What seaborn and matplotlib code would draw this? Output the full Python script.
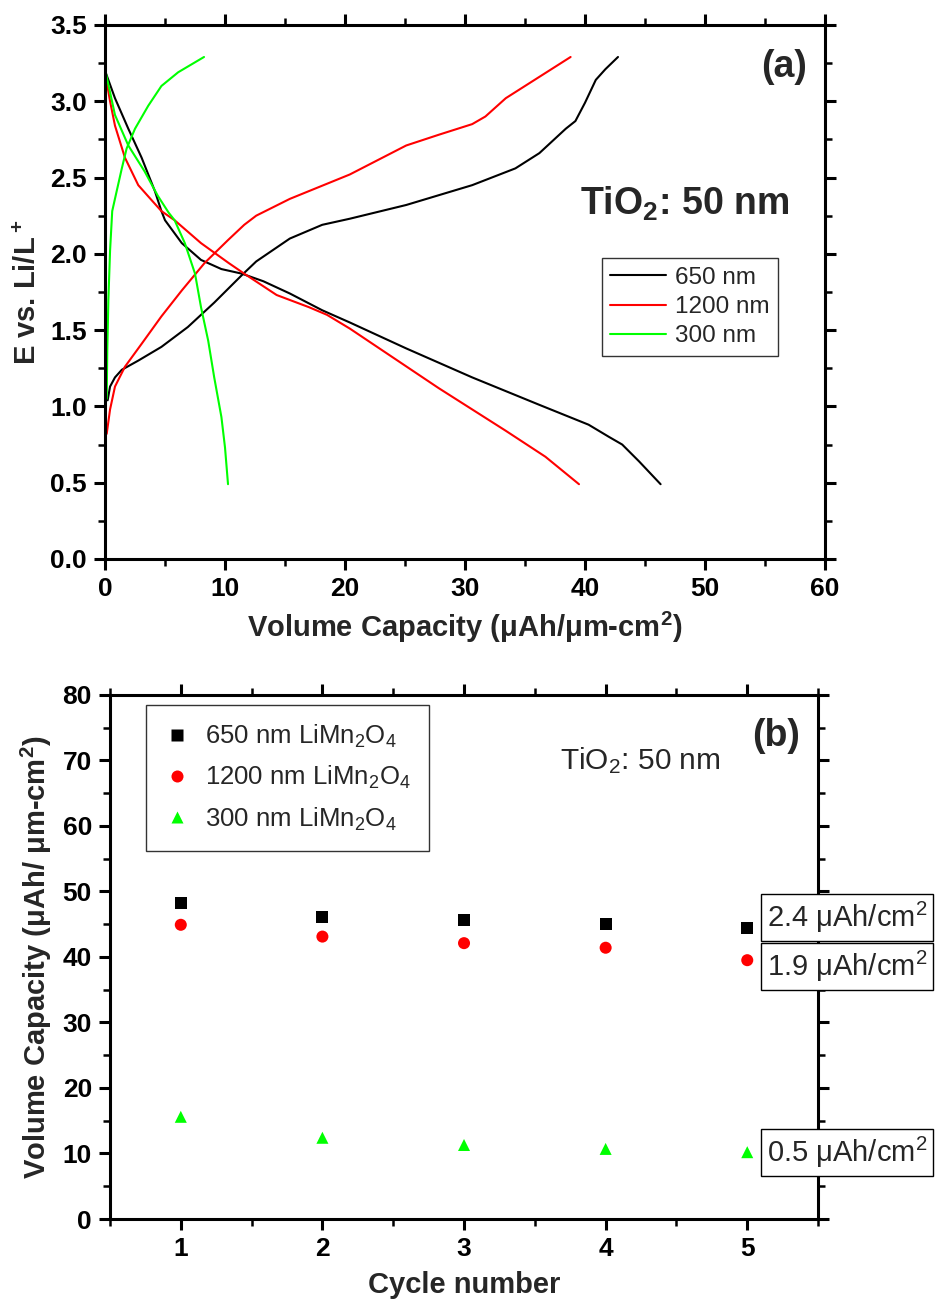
import numpy as np
import pandas as pd
import matplotlib
matplotlib.use("Agg")
import matplotlib.pyplot as plt
import seaborn as sns
from matplotlib.ticker import MultipleLocator, FormatStrFormatter

# ---------------- data: panel (a) ----------------
samples = ["650 nm", "1200 nm", "300 nm"]
colors = ["#000000", "#ff0000", "#00ff00"]

dis_650_x = [0.0, 0.83, 1.94, 3.05, 4.16, 4.7, 5.0, 6.4, 8.0, 9.7, 11.4, 13.2, 15.4, 18.1, 20.4, 25.1, 30.6, 36.2, 40.3, 42.0, 43.1, 44.5, 46.3]
dis_650_y = [3.20, 3.02, 2.82, 2.63, 2.41, 2.28, 2.22, 2.07, 1.96, 1.90, 1.87, 1.82, 1.74, 1.63, 1.55, 1.38, 1.19, 1.01, 0.88, 0.80, 0.75, 0.64, 0.49]
chg_650_x = [0.22, 0.42, 0.83, 1.4, 2.77, 4.7, 6.9, 9.1, 11.4, 12.6, 15.4, 18.1, 20.4, 25.1, 30.6, 34.2, 36.2, 38.4, 39.2, 40.0, 40.9, 41.7, 42.75]
chg_650_y = [1.04, 1.13, 1.19, 1.24, 1.30, 1.39, 1.52, 1.68, 1.86, 1.95, 2.10, 2.19, 2.23, 2.32, 2.45, 2.56, 2.66, 2.82, 2.87, 2.99, 3.14, 3.21, 3.29]

dis_1200_x = [0.0, 0.42, 0.83, 1.66, 2.77, 3.9, 4.7, 5.8, 8.0, 10.3, 11.6, 14.3, 17.0, 18.5, 20.4, 27.8, 33.4, 36.7, 39.5]
dis_1200_y = [3.19, 3.00, 2.84, 2.63, 2.45, 2.35, 2.28, 2.22, 2.07, 1.94, 1.87, 1.73, 1.65, 1.60, 1.51, 1.12, 0.84, 0.67, 0.49]
chg_1200_x = [0.14, 0.42, 0.83, 1.66, 3.05, 4.7, 6.4, 8.3, 10.25, 11.6, 12.6, 15.4, 20.4, 25.1, 27.8, 30.6, 31.7, 33.4, 36.2, 38.8]
chg_1200_y = [0.82, 0.98, 1.13, 1.26, 1.41, 1.59, 1.76, 1.94, 2.09, 2.19, 2.25, 2.36, 2.52, 2.71, 2.78, 2.85, 2.90, 3.02, 3.16, 3.29]

dis_300_x = [0.0, 0.83, 1.94, 3.3, 4.4, 5.3, 5.8, 6.65, 7.5, 8.0, 8.6, 9.1, 9.7, 10.0, 10.25]
dis_300_y = [3.21, 2.91, 2.71, 2.54, 2.38, 2.27, 2.22, 2.07, 1.87, 1.65, 1.43, 1.19, 0.93, 0.73, 0.49]
chg_300_x = [0.14, 0.19, 0.28, 0.42, 0.6, 0.97, 1.4, 1.8, 2.5, 3.6, 4.7, 6.1, 8.25]
chg_300_y = [1.05, 1.37, 1.70, 2.02, 2.28, 2.41, 2.56, 2.69, 2.82, 2.97, 3.10, 3.19, 3.29]

# ---------------- data: panel (b) ----------------
cycles = [1, 2, 3, 4, 5]
cap_650 = [48.2, 46.1, 45.6, 45.0, 44.4]
cap_1200 = [44.9, 43.1, 42.1, 41.4, 39.5]
cap_300 = [15.6, 12.4, 11.3, 10.7, 10.2]
series_b = ["650 nm LiMn$_2$O$_4$", "1200 nm LiMn$_2$O$_4$", "300 nm LiMn$_2$O$_4$"]
areal_labels = ["2.4 μAh/cm$^2$", "1.9 μAh/cm$^2$", "0.5 μAh/cm$^2$"]
areal_y = [46.0, 38.5, 10.2]

# ---------------- style ----------------
sns.set_theme(style="white")
plt.rcParams["font.family"] = ["Liberation Sans", "DejaVu Sans"]
plt.rcParams["mathtext.default"] = "regular"
plt.rcParams["axes.linewidth"] = 2.2

fig = plt.figure(figsize=(9.36, 13.06), dpi=100)
axa = fig.add_axes([0.1122, 0.572, 0.7692, 0.4089])
axb = fig.add_axes([0.1175, 0.0666, 0.7565, 0.4014])

# ---------------- panel (a) ----------------
rows = []
curves = [
    ("650 nm", "d", dis_650_x, dis_650_y), ("650 nm", "c", chg_650_x, chg_650_y),
    ("1200 nm", "d", dis_1200_x, dis_1200_y), ("1200 nm", "c", chg_1200_x, chg_1200_y),
    ("300 nm", "d", dis_300_x, dis_300_y), ("300 nm", "c", chg_300_x, chg_300_y),
]
for s, seg, xs, ys in curves:
    for i, (xv, yv) in enumerate(zip(xs, ys)):
        rows.append({"cap": xv, "E": yv, "sample": s, "seg": s + seg, "i": i})
dfa = pd.DataFrame(rows)
sns.lineplot(data=dfa, x="cap", y="E", hue="sample", units="seg", estimator=None,
             sort=False, hue_order=samples, palette=colors, linewidth=1.5, ax=axa)

axa.set_xlim(0, 60)
axa.set_ylim(0, 3.5)
axa.xaxis.set_major_locator(MultipleLocator(10))
axa.xaxis.set_minor_locator(MultipleLocator(5))
axa.yaxis.set_major_locator(MultipleLocator(0.5))
axa.yaxis.set_minor_locator(MultipleLocator(0.25))
axa.yaxis.set_major_formatter(FormatStrFormatter("%.1f"))
axa.set_xlabel("Volume Capacity (μAh/μm-cm$^2$)", fontsize=21, fontweight="bold", labelpad=6)
axa.set_ylabel("E vs. Li/L$^+$", fontsize=21, fontweight="bold", labelpad=6)
axa.text(0.975, 0.955, "(a)", transform=axa.transAxes, ha="right", va="top",
         fontsize=27, fontweight="bold")
axa.text(0.95, 0.665, "TiO$_2$: 50 nm", transform=axa.transAxes, ha="right", va="center",
         fontsize=27, fontweight="bold")
ha, la = axa.get_legend_handles_labels()
leg = axa.legend(ha, la, loc="upper left", bbox_to_anchor=(0.69, 0.563), borderaxespad=0,
                 fontsize=17.5, frameon=True, fancybox=False, edgecolor="black",
                 handlelength=2.3, handletextpad=0.35, labelspacing=0.3, borderpad=0.35)
leg.get_frame().set_linewidth(1.0)

# ---------------- panel (b) ----------------
dfb = pd.DataFrame({
    "cycle": cycles * 3,
    "cap": cap_650 + cap_1200 + cap_300,
    "series": [series_b[0]] * 5 + [series_b[1]] * 5 + [series_b[2]] * 5,
})
sns.scatterplot(data=dfb, x="cycle", y="cap", hue="series", style="series",
                hue_order=series_b, style_order=series_b, palette=colors,
                markers=["s", "o", "^"], s=75, edgecolor="none", ax=axb)
axb.set_xlim(0.5, 5.5)
axb.set_ylim(0, 80)
axb.xaxis.set_major_locator(MultipleLocator(1))
axb.xaxis.set_minor_locator(MultipleLocator(0.5))
axb.yaxis.set_major_locator(MultipleLocator(10))
axb.yaxis.set_minor_locator(MultipleLocator(5))
axb.set_xlabel("Cycle number", fontsize=21, fontweight="bold", labelpad=7)
axb.set_ylabel("Volume Capacity (μAh/ μm-cm$^2$)", fontsize=21, fontweight="bold", labelpad=6)
axb.text(0.975, 0.955, "(b)", transform=axb.transAxes, ha="right", va="top",
         fontsize=27, fontweight="bold")
axb.text(0.636, 0.875, "TiO$_2$: 50 nm", transform=axb.transAxes, ha="left", va="center",
         fontsize=21.5)
hb, lb = axb.get_legend_handles_labels()
legb = axb.legend(hb, lb, loc="upper left", bbox_to_anchor=(0.051, 0.981), borderaxespad=0,
                  fontsize=18.5, frameon=True, fancybox=False, edgecolor="black",
                  handlelength=1.0, handletextpad=0.6, labelspacing=0.55, borderpad=0.7,
                  markerscale=1.0)
legb.get_frame().set_linewidth(1.0)
for lab, yv in zip(areal_labels, areal_y):
    axb.text(5.14, yv, lab, ha="left", va="center", fontsize=21, clip_on=False,
             bbox=dict(boxstyle="square,pad=0.2", facecolor="white", edgecolor="black", linewidth=1.0))

# ---------------- common axis styling ----------------
for ax in (axa, axb):
    for sp in ax.spines.values():
        sp.set_visible(True)
        sp.set_color("black")
        sp.set_linewidth(2.2)
    ax.tick_params(which="major", direction="out", length=8, width=2.2, colors="black",
                   labelsize=19, top=True, right=True, bottom=True, left=True,
                   labeltop=False, labelright=False, pad=5)
    ax.tick_params(which="minor", direction="out", length=5, width=1.8, colors="black",
                   top=True, right=True, bottom=True, left=True)
    for t in ax.get_xticklabels() + ax.get_yticklabels():
        t.set_fontweight("bold")

fig.savefig("out.png", dpi=100)
